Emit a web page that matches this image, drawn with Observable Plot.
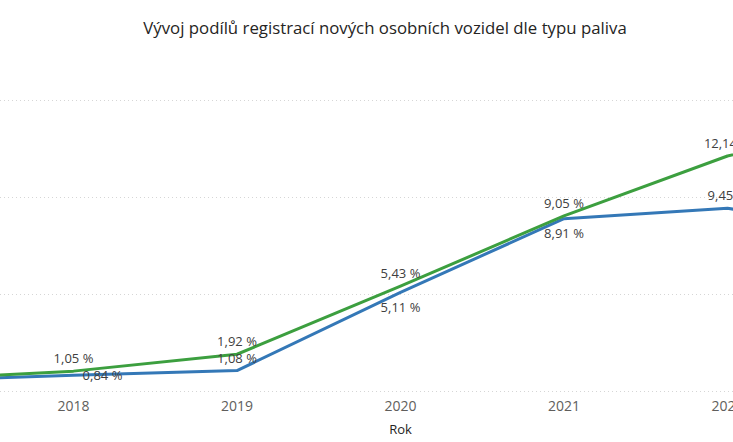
<!DOCTYPE html>
<html>
<head>
<meta charset="utf-8">
<script src="https://cdn.jsdelivr.net/npm/d3@7"></script>
<script src="https://cdn.jsdelivr.net/npm/@observablehq/plot@0.6"></script>
<style>
  html, body { margin: 0; padding: 0; background: #fff; overflow: hidden; width: 733px; height: 442px; }
  #title { height: 56px; line-height: 56px; padding-left: 37px; box-sizing: border-box; text-align: center;
           font-family: "Open Sans", sans-serif; font-size: 16.8px; color: #252423; white-space: nowrap; }
  #chart svg { display: block; }
</style>
</head>
<body>
<div id="title">Vývoj podílů registrací nových osobních vozidel dle typu paliva</div>
<div id="chart"></div>
<script>
// Data (shares in %)
const years = [2017, 2018, 2019, 2020, 2021, 2022, 2023];
const greenSeries = [0.60, 1.05, 1.92, 5.43, 9.05, 12.14, 14.0];
const blueSeries  = [0.55, 0.84, 1.08, 5.11, 8.91, 9.45, 8.0];
const tickYears = [2018, 2019, 2020, 2021, 2022];
const gridValues = [0, 5, 10, 15];
const titleText = "Vývoj podílů registrací nových osobních vozidel dle typu paliva";
const xLabel = "Rok";

const rows = [];
years.forEach((y, i) => {
  rows.push({year: y, value: greenSeries[i], series: "green"});
  rows.push({year: y, value: blueSeries[i], series: "blue"});
});
const labeled = rows.filter(d => tickYears.includes(d.year));
const fmt = v => v.toFixed(2).replace(".", ",") + " %";

// label placement (style): offsets per series/year
const place = (d) => {
  if (d.series === "green") return {dx: 0, dy: -12};
  if (d.year === 2018) return {dx: 29, dy: 1};
  if (d.year === 2019 || d.year === 2022) return {dx: 0, dy: -12};
  return {dx: 0, dy: 15};
};

const W = 733, H = 386;
const x0 = 73, step = 163.5;
const colors = {green: "#3c9f3f", blue: "#3478b7"};

const textMarks = labeled.map(d => {
  const p = place(d);
  return Plot.text([d], {x: "year", y: "value", text: d => fmt(d.value), dx: p.dx, dy: p.dy,
    fill: "#404040", fontSize: 13, textAnchor: "middle"});
});

const plot = Plot.plot({
  width: W, height: H,
  marginLeft: 0, marginRight: 0, marginTop: 44, marginBottom: 51,
  style: {fontFamily: "Open Sans, sans-serif", background: "#fff", overflow: "visible"},
  x: {type: "linear", domain: [2018 - x0 / step, 2018 + (W - x0) / step], range: [0, W], axis: null},
  y: {domain: [0, 15], axis: null},
  marks: [
    Plot.ruleY(gridValues, {stroke: "#d6d6d6", strokeDasharray: "1,3", strokeWidth: 1}),
    Plot.axisX(tickYears, {tickSize: 0, tickPadding: 10, fontSize: 14, fill: "#605E5C", label: null,
      tickFormat: d => String(d)}),
    Plot.text([xLabel], {frameAnchor: "bottom", x: () => 2020, dy: 42, fontSize: 13, fill: "#252423"}),
    Plot.line(rows.filter(d => d.series === "blue"), {x: "year", y: "value", stroke: colors.blue, strokeWidth: 3, clip: true}),
    Plot.line(rows.filter(d => d.series === "green"), {x: "year", y: "value", stroke: colors.green, strokeWidth: 3, clip: true}),
    ...textMarks
  ]
});
document.getElementById("chart").appendChild(plot);
</script>
</body>
</html>
